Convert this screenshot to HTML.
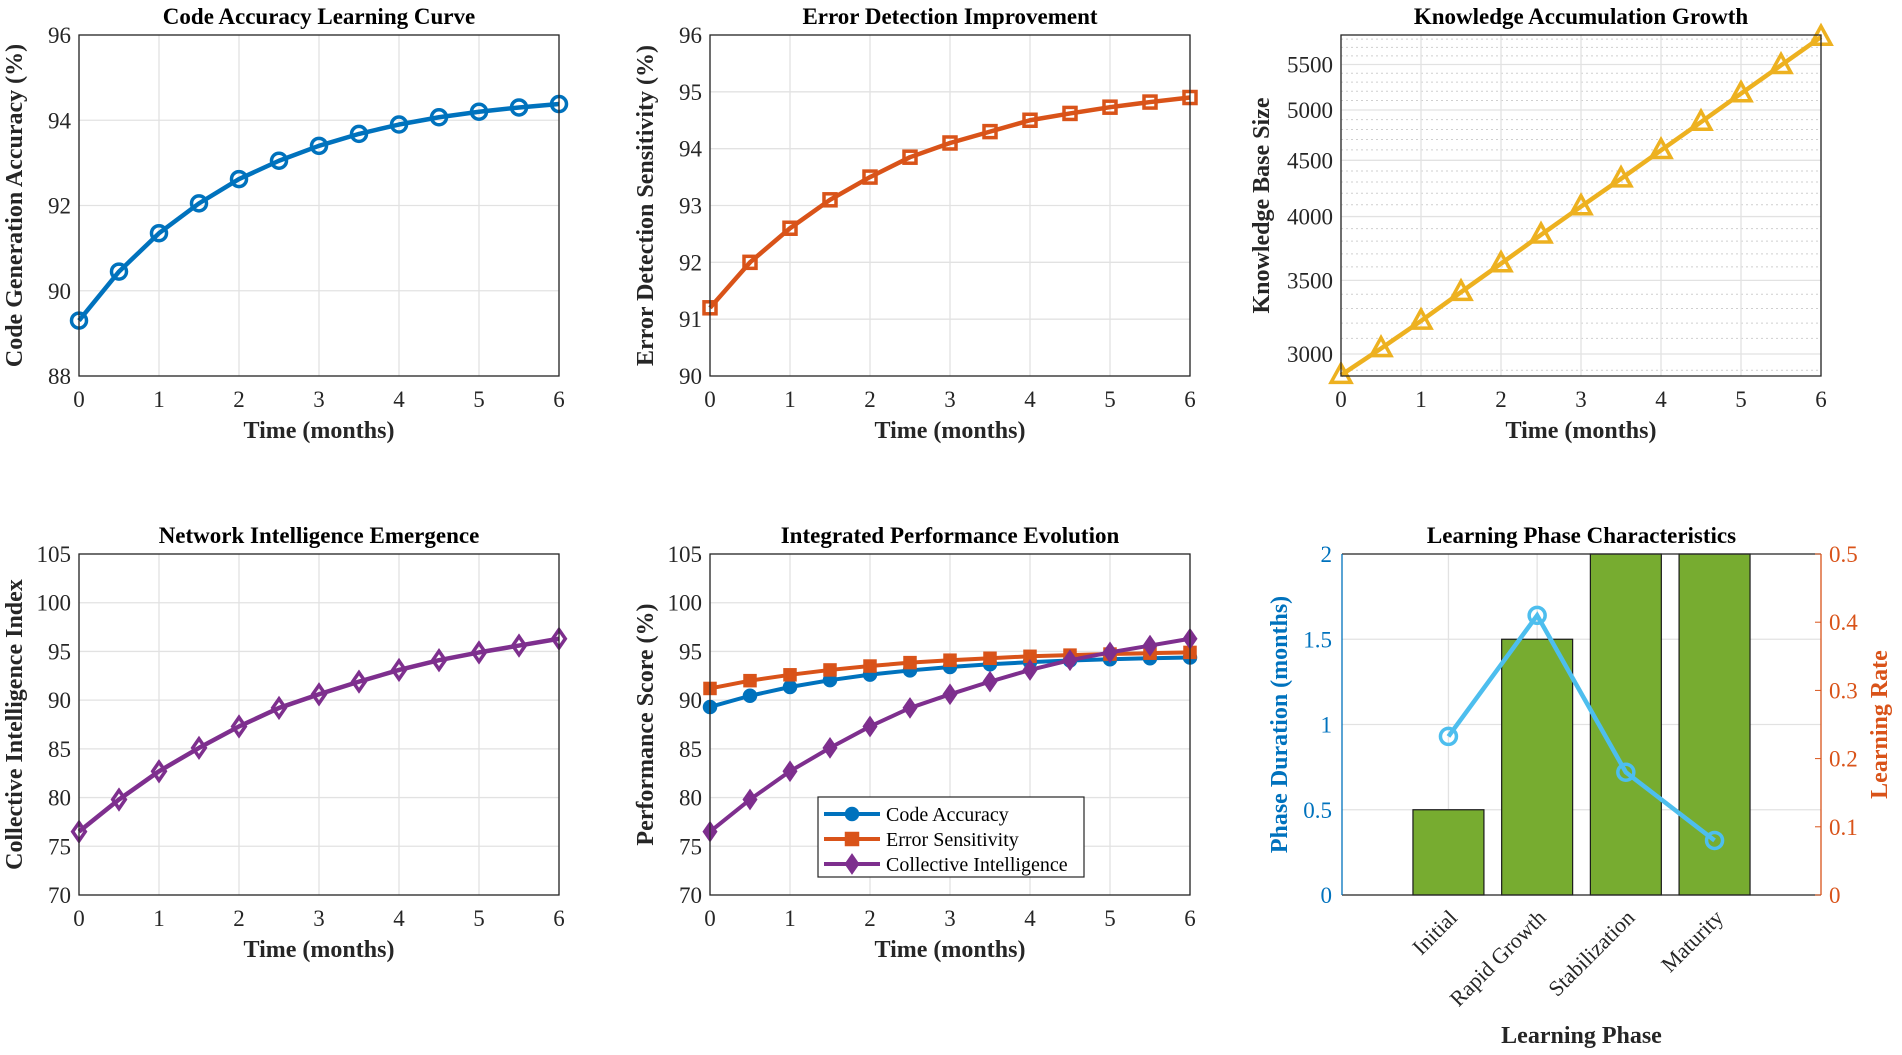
<!DOCTYPE html>
<html><head><meta charset="utf-8"><style>
body{margin:0;background:#fff;}
svg{display:block;font-family:"Liberation Serif",serif;}
</style></head><body>
<svg id="fig" width="1902" height="1055" xmlns="http://www.w3.org/2000/svg"></svg>
<script>
const timeMonths=[0,0.5,1,1.5,2,2.5,3,3.5,4,4.5,5,5.5,6];
const codeAccuracy=[89.3,90.45,91.35,92.05,92.62,93.05,93.4,93.68,93.9,94.07,94.2,94.3,94.38];
const errorSensitivity=[91.2,92.0,92.6,93.1,93.5,93.85,94.1,94.3,94.5,94.62,94.73,94.82,94.9];
const knowledgeSize=[2870,3035,3215,3415,3625,3850,4085,4330,4595,4875,5175,5490,5825];
const collectiveIntel=[76.5,79.8,82.7,85.1,87.3,89.2,90.6,91.9,93.1,94.1,94.9,95.6,96.3];
const timeTicks=[0,1,2,3,4,5,6];
const accTicks=[88,90,92,94,96];
const errTicks=[90,91,92,93,94,95,96];
const kbTicks=[3000,3500,4000,4500,5000,5500];
const ciTicks=[70,75,80,85,90,95,100,105];
const phaseNames=["Initial","Rapid Growth","Stabilization","Maturity"];
const phaseDuration=[0.5,1.5,2.5,3];
const learningRate=[0.2325,0.41,0.18,0.08];
const durTicks=[0,0.5,1,1.5,2];
const durTickLabels=["0","0.5","1","1.5","2"];
const rateTicks=[0,0.1,0.2,0.3,0.4,0.5];

const NS="http://www.w3.org/2000/svg";
const svg=document.getElementById('fig');
function el(tag,attrs,parent,text){const e=document.createElementNS(NS,tag);for(const k in attrs)e.setAttribute(k,attrs[k]);if(text!==undefined)e.textContent=text;(parent||svg).appendChild(e);return e;}

const BLUE="#0072BD",ORANGE="#D95319",YELLOW="#EDB120",PURPLE="#7E2F8E",LBLUE="#4DBEEE",GREEN="#77AC30";
const TICKFS=23,TITLEFS=23,AXFS=24;

function axes(name,x0,x1,y0,y1){
  const g=el('g',{});
  
  
  return {g,x0,x1,y0,y1};
}
function linAx(d0,d1,p0,p1){return v=>p0+(v-d0)/(d1-d0)*(p1-p0);}
function logAx(d0,d1,p0,p1){return v=>p0+(Math.log(v)-Math.log(d0))/(Math.log(d1)-Math.log(d0))*(p1-p0);}

function frame(A,xs,ys,xt,yt,ylabels,title,xtitle,ytitle,yoff,minor){
  const g=A.g;
  el('rect',{x:A.x0,y:A.y1,width:A.x1-A.x0,height:A.y0-A.y1,fill:'#fff'},g);
  if(minor)minor.forEach(v=>el('line',{x1:A.x0,x2:A.x1,y1:ys(v),y2:ys(v),stroke:'#cfcfcf','stroke-width':1,'stroke-dasharray':'2,3'},g));
  xt.forEach(v=>{el('line',{x1:xs(v),x2:xs(v),y1:A.y0,y2:A.y1,stroke:'#e2e2e2','stroke-width':1.3},g);});
  yt.forEach(v=>{el('line',{x1:A.x0,x2:A.x1,y1:ys(v),y2:ys(v),stroke:'#e2e2e2','stroke-width':1.3},g);});
  xt.forEach(v=>{const t=el('text',{x:xs(v),y:A.y0+31,'font-size':TICKFS,'text-anchor':'middle',fill:'#262626'},g,String(v));});
  yt.forEach((v,i)=>{const t=el('text',{x:A.x0-8,y:ys(v)+8,'font-size':TICKFS,'text-anchor':'end',fill:'#262626'},g,ylabels?ylabels[i]:String(v));});
  const tt=el('text',{x:(A.x0+A.x1)/2,y:A.y1-11,'font-size':TITLEFS,'font-weight':'bold','text-anchor':'middle',fill:'#000'},g,title);
  
  const xa=el('text',{x:(A.x0+A.x1)/2,y:A.y0+62,'font-size':AXFS,'font-weight':'bold','text-anchor':'middle',fill:'#262626'},g,xtitle);
  
  const cy=(A.y0+A.y1)/2,cx=A.x0-(yoff||57);
  const ya=el('text',{x:cx,y:cy,'font-size':AXFS,'font-weight':'bold','text-anchor':'middle',fill:'#262626',transform:`rotate(-90 ${cx} ${cy})`},g,ytitle);
  
}
function border(A){
  el('rect',{x:A.x0,y:A.y1,width:A.x1-A.x0,height:A.y0-A.y1,fill:'none',stroke:'#262626','stroke-width':1.3},A.g);
}
function marker(g,type,x,y,c,s){
  let m;
  if(type==='o')m=el('circle',{cx:x,cy:y,r:s,fill:'none',stroke:c,'stroke-width':3.5},g);
  else if(type==='s')m=el('rect',{x:x-s,y:y-s,width:2*s,height:2*s,fill:'none',stroke:c,'stroke-width':3.5},g);
  else if(type==='^')m=el('polygon',{points:`${x},${y-s*1.2} ${x-s*1.1},${y+s*0.8} ${x+s*1.1},${y+s*0.8}`,fill:'none',stroke:c,'stroke-width':3.5},g);
  else m=el('polygon',{points:`${x},${y-s*1.3} ${x-s*0.9},${y} ${x},${y+s*1.3} ${x+s*0.9},${y}`,fill:'none',stroke:c,'stroke-width':3.5},g);
  
}
function series(A,xs,ys,xv,yv,c,type,s,name,lw,fillM){
  const g=el('g',{},A.g);
  
  el('polyline',{points:xv.map((x,i)=>xs(x)+','+ys(yv[i])).join(' '),fill:'none',stroke:c,'stroke-width':lw||4.5,'stroke-linejoin':'round'},g);
  xv.forEach((x,i)=>marker(g,type,xs(x),ys(yv[i]),c,s));
  if(fillM)g.querySelectorAll('circle,rect,polygon').forEach(e=>e.setAttribute('fill',c));
}

const R1={y1:35,y0:376},R2={y1:554,y0:895};
const C1={x0:79,x1:559},C2={x0:710,x1:1190},C3={x0:1341,x1:1821};

{const A=axes('code-accuracy-chart',C1.x0,C1.x1,R1.y0,R1.y1);
const xs=linAx(0,6,A.x0,A.x1),ys=linAx(88,96,A.y0,A.y1);
frame(A,xs,ys,timeTicks,accTicks,null,'Code Accuracy Learning Curve','Time (months)','Code Generation Accuracy (%)');
series(A,xs,ys,timeMonths,codeAccuracy,BLUE,'o',7.5,'code-accuracy-line');border(A);}
{const A=axes('error-detection-chart',C2.x0,C2.x1,R1.y0,R1.y1);
const xs=linAx(0,6,A.x0,A.x1),ys=linAx(90,96,A.y0,A.y1);
frame(A,xs,ys,timeTicks,errTicks,null,'Error Detection Improvement','Time (months)','Error Detection Sensitivity (%)');
series(A,xs,ys,timeMonths,errorSensitivity,ORANGE,'s',6,'error-sensitivity-line');border(A);}
{const A=axes('knowledge-growth-chart',C3.x0,C3.x1,R1.y0,R1.y1);
const xs=linAx(0,6,A.x0,A.x1),ys=logAx(2865,5850,A.y0,A.y1);
const minor=[];for(let v=2900;v<5850;v+=100){if(v%500)minor.push(v);}
frame(A,xs,ys,timeTicks,kbTicks,null,'Knowledge Accumulation Growth','Time (months)','Knowledge Base Size',72,minor);
series(A,xs,ys,timeMonths,knowledgeSize,YELLOW,'^',9,'knowledge-size-line');border(A);}
{const A=axes('network-intelligence-chart',C1.x0,C1.x1,R2.y0,R2.y1);
const xs=linAx(0,6,A.x0,A.x1),ys=linAx(70,105,A.y0,A.y1);
frame(A,xs,ys,timeTicks,ciTicks,null,'Network Intelligence Emergence','Time (months)','Collective Intelligence Index');
series(A,xs,ys,timeMonths,collectiveIntel,PURPLE,'d',7,'collective-intelligence-line');border(A);}
{const A=axes('integrated-performance-chart',C2.x0,C2.x1,R2.y0,R2.y1);
const xs=linAx(0,6,A.x0,A.x1),ys=linAx(70,105,A.y0,A.y1);
frame(A,xs,ys,timeTicks,ciTicks,null,'Integrated Performance Evolution','Time (months)','Performance Score (%)');
series(A,xs,ys,timeMonths,codeAccuracy,BLUE,'o',5.5,'code-accuracy-series',4,true);
series(A,xs,ys,timeMonths,errorSensitivity,ORANGE,'s',5,'error-sensitivity-series',4,true);
series(A,xs,ys,timeMonths,collectiveIntel,PURPLE,'d',6,'collective-intelligence-series',4,true);
border(A);
const lg=el('g',{},A.g);
el('rect',{x:818,y:797,width:266,height:80,fill:'#fff',stroke:'#262626','stroke-width':1.2},lg);
const ents=[['Code Accuracy',BLUE,'o'],['Error Sensitivity',ORANGE,'s'],['Collective Intelligence',PURPLE,'d']];
ents.forEach((e,i)=>{const y=814+i*25;const eg=el('g',{},lg);
el('line',{x1:824,x2:880,y1:y,y2:y,stroke:e[1],'stroke-width':4},eg);marker(eg,e[2],852,y,e[1],e[2]==='d'?6:5.5);
eg.querySelectorAll('circle,rect,polygon').forEach(m=>m.setAttribute('fill',e[1]));
el('text',{x:886,y:y+7,'font-size':20,fill:'#000'},eg,e[0]);});}
{const A=axes('learning-phase-chart',1342,C3.x1,R2.y0,R2.y1);
const xs=linAx(-0.2,5.2,A.x0,A.x1),ys=linAx(0,2,A.y0,A.y1),yr=linAx(0,0.5,A.y0,A.y1);
const g=A.g;
el('rect',{x:A.x0,y:A.y1,width:A.x1-A.x0,height:A.y0-A.y1,fill:'#fff'},g);
phaseNames.forEach((n,i)=>el('line',{x1:xs(i+1),x2:xs(i+1),y1:A.y0,y2:A.y1,stroke:'#e2e2e2','stroke-width':1.3},g));
durTicks.forEach(v=>el('line',{x1:A.x0,x2:A.x1,y1:ys(v),y2:ys(v),stroke:'#e2e2e2','stroke-width':1.3},g));
phaseDuration.forEach((v,i)=>{const top=ys(Math.min(v,2));const b=el('rect',{x:xs(i+1-0.4),y:top,width:xs(0.8)-xs(0),height:A.y0-top,fill:GREEN,stroke:'#1a1a1a','stroke-width':1.2},g);});
const lg=el('g',{},g);
el('polyline',{points:learningRate.map((v,i)=>xs(i+1)+','+yr(v)).join(' '),fill:'none',stroke:LBLUE,'stroke-width':4.5},lg);
learningRate.forEach((v,i)=>marker(lg,'o',xs(i+1),yr(v),LBLUE,8));
el('line',{x1:A.x0,x2:A.x1,y1:A.y1,y2:A.y1,stroke:'#262626','stroke-width':1.3},g);
el('line',{x1:A.x0,x2:A.x1,y1:A.y0,y2:A.y0,stroke:'#262626','stroke-width':1.3},g);
el('line',{x1:A.x0,x2:A.x0,y1:A.y0,y2:A.y1,stroke:BLUE,'stroke-width':1.3},g);
el('line',{x1:A.x1,x2:A.x1,y1:A.y0,y2:A.y1,stroke:ORANGE,'stroke-width':1.3},g);
durTicks.forEach((v,i)=>{const t=el('text',{x:A.x0-10,y:ys(v)+8,'font-size':TICKFS,'text-anchor':'end',fill:BLUE},g,durTickLabels[i]);});
rateTicks.forEach(v=>{el('line',{x1:A.x1-6,x2:A.x1,y1:yr(v),y2:yr(v),stroke:ORANGE},g);const t=el('text',{x:A.x1+8,y:yr(v)+8,'font-size':TICKFS,fill:ORANGE},g,String(v));});
phaseNames.forEach((n,i)=>{const x=xs(i+1)+10,y=A.y0+24;const t=el('text',{x:x,y:y,'font-size':22,'text-anchor':'end',fill:'#262626',transform:`rotate(-45 ${x} ${y})`},g,n);});
const tt=el('text',{x:(A.x0+A.x1)/2,y:A.y1-11,'font-size':TITLEFS,'font-weight':'bold','text-anchor':'middle',fill:'#000'},g,'Learning Phase Characteristics');
const xa=el('text',{x:(A.x0+A.x1)/2,y:1043,'font-size':AXFS,'font-weight':'bold','text-anchor':'middle',fill:'#262626'},g,'Learning Phase');
const cy=(A.y0+A.y1)/2,cx=A.x0-55;
const ya=el('text',{x:cx,y:cy,'font-size':AXFS,'font-weight':'bold','text-anchor':'middle',fill:BLUE,transform:`rotate(-90 ${cx} ${cy})`},g,'Phase Duration (months)');
const rx=A.x1+66;
const yb=el('text',{x:rx,y:cy,'font-size':AXFS,'font-weight':'bold','text-anchor':'middle',fill:ORANGE,transform:`rotate(-90 ${rx} ${cy})`},g,'Learning Rate');}
</script>
</body></html>
